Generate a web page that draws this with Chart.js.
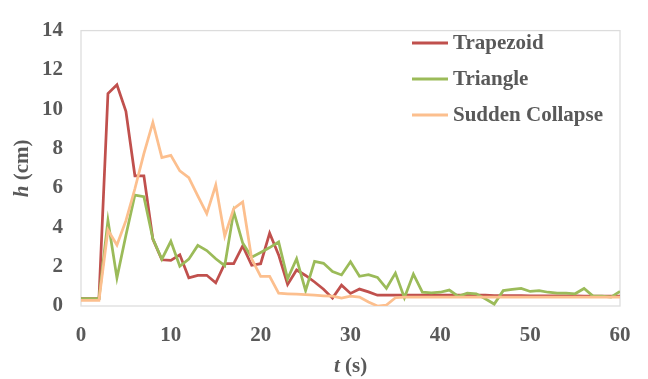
<!DOCTYPE html>
<html>
<head>
<meta charset="utf-8">
<script src="https://cdn.jsdelivr.net/npm/chart.js@4.4.1/dist/chart.umd.min.js"></script>
<style>
  html, body { margin: 0; padding: 0; background: #ffffff; }
  #wrap { width: 648px; height: 379px; position: relative; }
</style>
</head>
<body>
<div id="wrap"><canvas id="c" width="648" height="379"></canvas></div>
<script>
// Time in seconds (one sample per second)
const times = [];
for (let s = 0; s <= 60; s++) times.push(s);

// Wave height h (cm) for each dam-break shape
const trapezoid = [
  0.38, 0.38, 0.38, 10.8, 11.25, 9.9, 6.62, 6.62, 3.4, 2.35,
  2.32, 2.6, 1.43, 1.56, 1.56, 1.18, 2.15, 2.15, 3.05, 2.07,
  2.15, 3.7, 2.6, 1.1, 1.83, 1.55, 1.22, 0.85, 0.4, 1.06,
  0.64, 0.86, 0.72, 0.55, 0.55, 0.55, 0.55, 0.55, 0.55, 0.55,
  0.55, 0.55, 0.55, 0.55, 0.55, 0.55, 0.53, 0.53, 0.53, 0.53,
  0.52, 0.52, 0.52, 0.52, 0.52, 0.52, 0.5, 0.5, 0.5, 0.5, 0.5
];
const triangle = [
  0.38, 0.38, 0.38, 4.35, 1.43, 3.6, 5.64, 5.56, 3.42, 2.38,
  3.29, 2.02, 2.38, 3.08, 2.82, 2.4, 2.05, 4.8, 3.2, 2.48,
  2.72, 2.97, 3.26, 1.38, 2.4, 0.78, 2.27, 2.17, 1.75, 1.58,
  2.25, 1.51, 1.59, 1.45, 0.9, 1.67, 0.42, 1.62, 0.7, 0.67,
  0.7, 0.81, 0.49, 0.65, 0.62, 0.37, 0.1, 0.78, 0.84, 0.89,
  0.74, 0.78, 0.7, 0.65, 0.65, 0.62, 0.89, 0.5, 0.5, 0.45, 0.74
];
const suddenCollapse = [
  0.28, 0.28, 0.28, 3.86, 3.1, 4.34, 5.96, 7.75, 9.33, 7.55,
  7.66, 6.87, 6.53, 5.6, 4.7, 6.15, 3.55, 4.95, 5.29, 2.4,
  1.51, 1.51, 0.65, 0.62, 0.6, 0.58, 0.55, 0.52, 0.5, 0.4,
  0.5, 0.45, 0.2, 0.0, 0.05, 0.42, 0.45, 0.45, 0.45, 0.45,
  0.45, 0.45, 0.45, 0.45, 0.45, 0.45, 0.45, 0.45, 0.45, 0.45,
  0.45, 0.45, 0.45, 0.45, 0.45, 0.45, 0.45, 0.45, 0.45, 0.45, 0.45
];

const seriesNames = ['Trapezoid', 'Triangle', 'Sudden Collapse'];
const seriesColors = ['#c0504d', '#9bbb59', '#fcbf8e'];

const xTicks = [0, 10, 20, 30, 40, 50, 60];
const yTicks = [0, 2, 4, 6, 8, 10, 12, 14];

const FONT = "'Liberation Serif', 'Times New Roman', serif";
const TEXT = '#595959';
const SIZE = 21;

function pts(values) {
  return values.map((v, i) => ({ x: times[i], y: v }));
}

// Light frame around the plotting area
const framePlugin = {
  id: 'frame',
  beforeDatasetsDraw(chart) {
    const a = chart.chartArea, ctx = chart.ctx;
    ctx.save();
    ctx.strokeStyle = '#dcdcdc';
    ctx.lineWidth = 1.25;
    ctx.strokeRect(a.left, a.top, a.right - a.left, a.bottom - a.top);
    ctx.restore();
  }
};

// Axis titles with an italic variable symbol
const titlesPlugin = {
  id: 'titles',
  afterDraw(chart) {
    const ctx = chart.ctx, a = chart.chartArea;
    function mixed(sym, rest, cx, cy) {
      ctx.font = 'italic bold ' + SIZE + 'px ' + FONT;
      const w1 = ctx.measureText(sym).width;
      ctx.font = 'bold ' + SIZE + 'px ' + FONT;
      const w2 = ctx.measureText(rest).width;
      let x = cx - (w1 + w2) / 2;
      ctx.textBaseline = 'middle';
      ctx.textAlign = 'left';
      ctx.fillStyle = TEXT;
      ctx.font = 'italic bold ' + SIZE + 'px ' + FONT;
      ctx.fillText(sym, x, cy);
      ctx.font = 'bold ' + SIZE + 'px ' + FONT;
      ctx.fillText(rest, x + w1, cy);
    }
    ctx.save();
    mixed('t', ' (s)', (a.left + a.right) / 2, 367);
    ctx.restore();
    ctx.save();
    ctx.translate(23, (a.top + a.bottom) / 2);
    ctx.rotate(-Math.PI / 2);
    mixed('h', ' (cm)', 0, 0);
    ctx.restore();
  }
};

// Legend drawn inside the plot, upper right
const legendPlugin = {
  id: 'insideLegend',
  afterDraw(chart) {
    const ctx = chart.ctx;
    ctx.save();
    chart.data.datasets.forEach((ds, i) => {
      const y = 43 + i * 36;
      ctx.strokeStyle = ds.borderColor;
      ctx.lineWidth = 3;
      ctx.beginPath();
      ctx.moveTo(412, y);
      ctx.lineTo(448, y);
      ctx.stroke();
      ctx.fillStyle = TEXT;
      ctx.font = 'bold ' + SIZE + 'px ' + FONT;
      ctx.textBaseline = 'middle';
      ctx.textAlign = 'left';
      ctx.fillText(ds.label, 453, y + 1);
    });
    ctx.restore();
  }
};

const allValues = [trapezoid, triangle, suddenCollapse];

new Chart(document.getElementById('c'), {
  type: 'line',
  data: {
    datasets: allValues.map((vals, i) => ({
      label: seriesNames[i],
      data: pts(vals),
      borderColor: seriesColors[i],
      backgroundColor: seriesColors[i],
      borderWidth: 2.75,
      pointRadius: 0,
      tension: 0,
      fill: false,
      order: 3 - i
    }))
  },
  options: {
    responsive: false,
    animation: false,
    devicePixelRatio: 1,
    layout: { padding: { left: 0, top: 18, right: 28, bottom: 0 } },
    plugins: {
      legend: { display: false },
      tooltip: { enabled: false }
    },
    scales: {
      x: {
        type: 'linear',
        min: xTicks[0],
        max: xTicks[xTicks.length - 1],
        afterBuildTicks(scale) { scale.ticks = xTicks.map(v => ({ value: v })); },
        afterFit(scale) { scale.height = 73; },
        grid: { display: false, drawTicks: false },
        border: { display: false },
        ticks: {
          padding: 17,
          color: TEXT,
          font: { family: FONT, size: SIZE, weight: 'bold' },
          maxRotation: 0
        }
      },
      y: {
        min: yTicks[0],
        max: yTicks[yTicks.length - 1],
        afterBuildTicks(scale) { scale.ticks = yTicks.map(v => ({ value: v })); },
        afterFit(scale) { scale.width = 81; },
        grid: { display: false, drawTicks: false },
        border: { display: false },
        ticks: {
          padding: 18,
          color: TEXT,
          font: { family: FONT, size: SIZE, weight: 'bold' }
        }
      }
    }
  },
  plugins: [framePlugin, titlesPlugin, legendPlugin]
});
</script>
</body>
</html>
